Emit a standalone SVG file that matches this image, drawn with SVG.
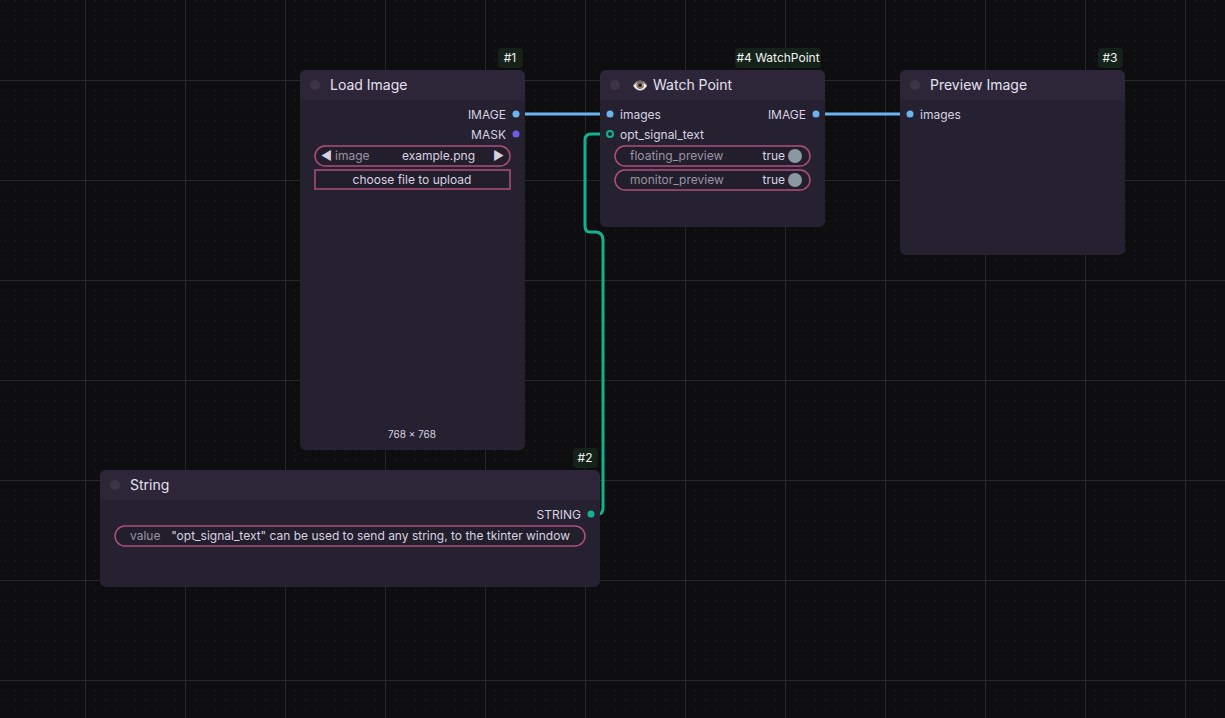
<svg xmlns="http://www.w3.org/2000/svg" width="1225" height="718" viewBox="0 0 1225 718">
<defs>
<pattern id="dots" x="5" y="0" width="10" height="10" patternUnits="userSpaceOnUse"><rect x="0" y="0" width="1" height="1" fill="#2a2a30"/></pattern>
<pattern id="grid" x="85" y="80" width="100" height="100" patternUnits="userSpaceOnUse"><path d="M0 0V100M0 0H100" stroke="#27272c" stroke-width="2" fill="none"/></pattern>
<style>
text{font-family:Inter,"Liberation Sans",sans-serif;}
.body{fill:#262131;}
.title{fill:#2d2639;}
.tt{fill:#e6e0ee;font-size:14px;}
.lbl{fill:#d8d2e0;font-size:12px;}
.dim{fill:#9a94a4;font-size:12px;}
.wid{fill:#231e2c;stroke:#b04e79;stroke-width:1.5;}
.badge{fill:#14221a;}
.bt{fill:#f2f2f2;font-size:12px;}
.dot{fill:#3d3547;}
</style>
</defs>
<rect width="1225" height="718" fill="#0e0e11"/>
<rect width="1225" height="718" fill="url(#dots)"/>
<rect width="1225" height="718" fill="url(#grid)"/>
<g id="connectors" fill="none" stroke-width="3">
<path d="M516 114H610" stroke="#6cb4f0"/>
<path d="M816 114H910" stroke="#6cb4f0"/>
<path d="M591 514H598Q603 514 603 508V240Q603 232 595 232H590Q585 232 585 226V140Q585 134 591 134H610" stroke="#12b28c"/>
</g>
<g id="node1">
<rect x="498" y="48" width="25" height="20" rx="4" class="badge"/><text x="510" y="62" text-anchor="middle" class="bt">#1</text>
<rect x="300" y="70" width="225" height="380" rx="6" class="body"/>
<path d="M306 70H519A6 6 0 0 1 525 76V100H300V76A6 6 0 0 1 306 70Z" class="title"/>
<circle cx="315" cy="85" r="5" class="dot"/>
<text x="330" y="90" class="tt">Load Image</text>
<text x="506" y="119" text-anchor="end" class="lbl">IMAGE</text><circle cx="516" cy="114" r="3.5" fill="#6cb4f0"/>
<text x="506" y="139" text-anchor="end" class="lbl">MASK</text><circle cx="516" cy="134" r="3.5" fill="#6c5ce6"/>
<rect x="315" y="146" width="195" height="20" rx="10" class="wid"/>
<text x="321" y="160" class="lbl">◀</text><text x="335" y="160" class="dim">image</text>
<text x="475" y="160" text-anchor="end" class="lbl">example.png</text><text x="493" y="160" class="lbl">▶</text>
<rect x="315" y="170" width="195" height="19" class="wid"/>
<text x="412" y="184" text-anchor="middle" class="lbl">choose file to upload</text>
<text x="412" y="438" text-anchor="middle" fill="#d8d2e0" font-size="10">768 × 768</text>
</g>
<g id="node4">
<rect x="735" y="48" width="86" height="20" rx="4" class="badge"/><text x="778" y="62" text-anchor="middle" class="bt">#4 WatchPoint</text>
<rect x="600" y="70" width="225" height="157" rx="6" class="body"/>
<path d="M606 70H819A6 6 0 0 1 825 76V100H600V76A6 6 0 0 1 606 70Z" class="title"/>
<circle cx="615" cy="85" r="5" class="dot"/>
<text x="632" y="90" font-size="13">👁️</text>
<text x="653" y="90" class="tt">Watch Point</text>
<circle cx="610" cy="114" r="3.5" fill="#6cb4f0"/><text x="620" y="119" class="lbl">images</text>
<circle cx="610" cy="134" r="3" fill="none" stroke="#12b28c" stroke-width="2"/><text x="620" y="139" class="lbl">opt_signal_text</text>
<text x="806" y="119" text-anchor="end" class="lbl">IMAGE</text><circle cx="816" cy="114" r="3.5" fill="#6cb4f0"/>
<rect x="615" y="146" width="195" height="20" rx="10" class="wid"/>
<text x="630" y="160" class="dim">floating_preview</text><text x="785" y="160" text-anchor="end" class="lbl">true</text><circle cx="795" cy="156" r="7" fill="#8c96a0"/>
<rect x="615" y="170" width="195" height="20" rx="10" class="wid"/>
<text x="630" y="184" class="dim">monitor_preview</text><text x="785" y="184" text-anchor="end" class="lbl">true</text><circle cx="795" cy="180" r="7" fill="#8c96a0"/>
</g>
<g id="node3">
<rect x="1098" y="48" width="25" height="20" rx="4" class="badge"/><text x="1110" y="62" text-anchor="middle" class="bt">#3</text>
<rect x="900" y="70" width="225" height="185" rx="6" class="body"/>
<path d="M906 70H1119A6 6 0 0 1 1125 76V100H900V76A6 6 0 0 1 906 70Z" class="title"/>
<circle cx="915" cy="85" r="5" class="dot"/>
<text x="930" y="90" class="tt">Preview Image</text>
<circle cx="910" cy="114" r="3.5" fill="#6cb4f0"/><text x="920" y="119" class="lbl">images</text>
</g>
<g id="node2">
<rect x="573" y="448" width="25" height="20" rx="4" class="badge"/><text x="585" y="462" text-anchor="middle" class="bt">#2</text>
<rect x="100" y="470" width="500" height="117" rx="6" class="body"/>
<path d="M106 470H594A6 6 0 0 1 600 476V500H100V476A6 6 0 0 1 106 470Z" class="title"/>
<circle cx="115" cy="485" r="5" class="dot"/>
<text x="130" y="490" class="tt">String</text>
<text x="581" y="519" text-anchor="end" class="lbl">STRING</text><circle cx="591" cy="514" r="3.5" fill="#12b28c"/>
<rect x="115" y="526" width="470" height="20" rx="10" class="wid"/>
<text x="130" y="540" class="dim">value</text>
<text x="570" y="540" text-anchor="end" class="lbl">"opt_signal_text" can be used to send any string, to the tkinter window</text>
</g>
</svg>
